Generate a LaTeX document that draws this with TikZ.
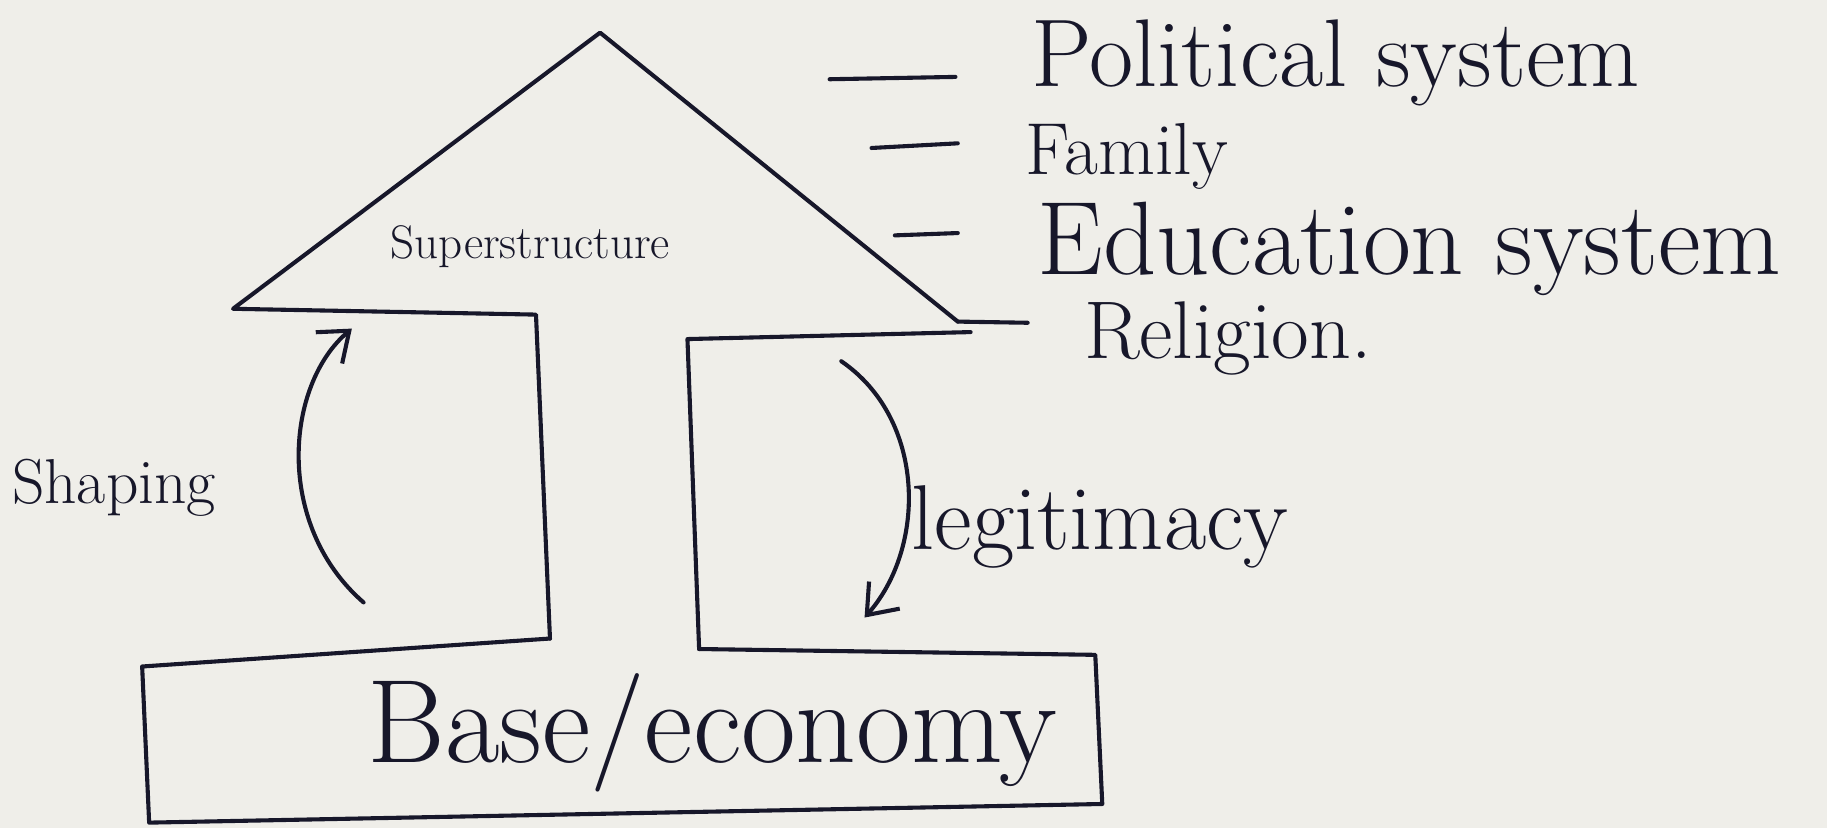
\documentclass[tikz,border=0pt]{standalone}
\usetikzlibrary{arrows.meta}
\definecolor{paper}{HTML}{EFEEE9}
\definecolor{inkc}{HTML}{17172A}
\begin{document}
\begin{tikzpicture}[x=0.02cm,y=-0.02cm,
  ink/.style={draw=inkc, line width=2pt, line cap=round, line join=round},
  lbl/.style={anchor=base west, inner sep=0pt, text=inkc},
  tip/.style={-{Straight Barb[length=13pt,width=20pt]}}]
\fill[paper] (0,0) rectangle (1568,711);
\useasboundingbox (0,0) rectangle (1568,711);

% roof and pillars
\coordinate (apex) at (515,28);
\coordinate (roofL) at (200,265);
\coordinate (roofR) at (822,276);
\coordinate (lpTop) at (460,270);
\coordinate (lpBot) at (472,548);
\coordinate (rpTopL) at (590,291);
\coordinate (rpTopR) at (833,285);
\coordinate (rpBot) at (600,557);
% base box
\coordinate (bTL) at (122,572);
\coordinate (bBL) at (128,706);
\coordinate (bBR) at (946,690);
\coordinate (bTR) at (940,562);

\draw[ink] (lpBot) -- (lpTop) -- (roofL) -- (apex) -- (roofR);
\draw[ink] (rpBot) -- (rpTopL) -- (rpTopR);
\draw[ink] (lpBot) -- (bTL) -- (bBL) -- (bBR) -- (bTR) -- (rpBot);

% labels
\node[lbl, font=\fontsize{47}{52}\selectfont] (pol) at (885,74) {Political system};
\node[lbl, font=\fontsize{36}{42}\selectfont] (fam) at (880,150) {Family};
\node[lbl, font=\fontsize{51}{56}\selectfont] (edu) at (890,236) {Education system};
\node[lbl, font=\fontsize{40}{46}\selectfont] (rel) at (930,308) {Religion.};
\node[lbl, font=\fontsize{23}{27}\selectfont] (sup) at (335,222) {Superstructure};
\node[lbl, font=\fontsize{31}{36}\selectfont] (shp) at (10,432) {Shaping};
\node[lbl, font=\fontsize{45}{50}\selectfont] (leg) at (782,472) {legitimacy};
\node[lbl, font=\fontsize{58}{64}\selectfont] (base) at (315,654) {Base/economy};

% dashes leading to the list items
\coordinate (d1a) at (712,68);  \coordinate (d1b) at (820,66);
\coordinate (d2a) at (748,127); \coordinate (d2b) at (822,123);
\coordinate (d3a) at (768,202); \coordinate (d3b) at (822,200);
\coordinate (d4b) at (882,277);
\draw[ink] (d1a) -- (d1b);
\draw[ink] (d2a) -- (d2b);
\draw[ink] (d3a) -- (d3b);
\draw[ink] (roofR) -- (d4b);

% shaping and legitimacy arrows
\coordinate (s0) at (312,517); \coordinate (s1) at (302,282);
\coordinate (g0) at (722,310); \coordinate (g1) at (742,530);
\draw[ink, tip] (s0) .. controls (235,450) and (245,330) .. (s1);
\draw[ink, tip] (g0) .. controls (795,360) and (795,470) .. (g1);
\end{tikzpicture}
\end{document}
